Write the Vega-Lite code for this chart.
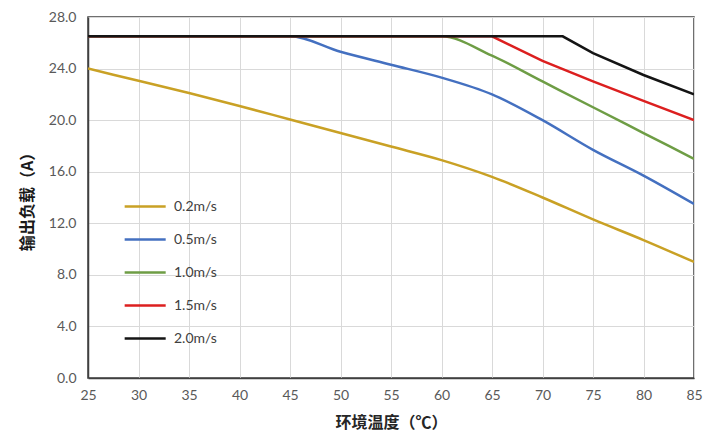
{
  "$schema": "https://vega.github.io/schema/vega-lite/v6.json",
  "width": 606,
  "height": 361,
  "autosize": "none",
  "padding": {"left": 88, "top": 17, "right": 24, "bottom": 68},
  "background": "white",
  "config": {
    "view": {"stroke": "#404040", "strokeWidth": 1.5},
    "font": "Lato"
  },
  "data": {
    "values": [
      {"speed": "0.2m/s", "t": 25, "a": 24.0},
      {"speed": "0.2m/s", "t": 30, "a": 23.05},
      {"speed": "0.2m/s", "t": 35, "a": 22.1},
      {"speed": "0.2m/s", "t": 40, "a": 21.1},
      {"speed": "0.2m/s", "t": 45, "a": 20.05},
      {"speed": "0.2m/s", "t": 50, "a": 19.0},
      {"speed": "0.2m/s", "t": 55, "a": 17.95},
      {"speed": "0.2m/s", "t": 60, "a": 16.9},
      {"speed": "0.2m/s", "t": 65, "a": 15.6},
      {"speed": "0.2m/s", "t": 70, "a": 14.0},
      {"speed": "0.2m/s", "t": 75, "a": 12.3},
      {"speed": "0.2m/s", "t": 80, "a": 10.7},
      {"speed": "0.2m/s", "t": 85, "a": 9.0},
      {"speed": "0.5m/s", "t": 25, "a": 26.5},
      {"speed": "0.5m/s", "t": 45, "a": 26.5},
      {"speed": "0.5m/s", "t": 50, "a": 25.3},
      {"speed": "0.5m/s", "t": 55, "a": 24.3},
      {"speed": "0.5m/s", "t": 60, "a": 23.3},
      {"speed": "0.5m/s", "t": 65, "a": 22.0},
      {"speed": "0.5m/s", "t": 70, "a": 20.0},
      {"speed": "0.5m/s", "t": 75, "a": 17.7},
      {"speed": "0.5m/s", "t": 80, "a": 15.7},
      {"speed": "0.5m/s", "t": 85, "a": 13.5},
      {"speed": "1.0m/s", "t": 25, "a": 26.5},
      {"speed": "1.0m/s", "t": 60, "a": 26.5},
      {"speed": "1.0m/s", "t": 65, "a": 25.0},
      {"speed": "1.0m/s", "t": 70, "a": 23.0},
      {"speed": "1.0m/s", "t": 75, "a": 21.0},
      {"speed": "1.0m/s", "t": 80, "a": 19.0},
      {"speed": "1.0m/s", "t": 85, "a": 17.0},
      {"speed": "1.5m/s", "t": 25, "a": 26.5},
      {"speed": "1.5m/s", "t": 65, "a": 26.5},
      {"speed": "1.5m/s", "t": 70, "a": 24.6},
      {"speed": "1.5m/s", "t": 75, "a": 23.0},
      {"speed": "1.5m/s", "t": 80, "a": 21.5},
      {"speed": "1.5m/s", "t": 85, "a": 20.0},
      {"speed": "2.0m/s", "t": 25, "a": 26.5},
      {"speed": "2.0m/s", "t": 72, "a": 26.5},
      {"speed": "2.0m/s", "t": 75, "a": 25.2},
      {"speed": "2.0m/s", "t": 80, "a": 23.5},
      {"speed": "2.0m/s", "t": 85, "a": 22.0}
    ]
  },
  "encoding": {
    "x": {
      "field": "t",
      "type": "quantitative",
      "scale": {"domain": [25, 85], "nice": false, "zero": false},
      "axis": {
        "values": [25, 30, 35, 40, 45, 50, 55, 60, 65, 70, 75, 80, 85],
        "title": "环境温度（℃）",
        "titleFont": "Noto Sans CJK SC",
        "titleFontSize": 16,
        "titleFontWeight": "bold",
        "titleColor": "#262626",
        "titlePadding": 12,
        "labelFont": "Lato",
        "labelFontSize": 14,
        "labelColor": "#595959",
        "labelPadding": 10,
        "labelFlush": false,
        "ticks": false,
        "domainColor": "#404040",
        "domainWidth": 1.5,
        "gridColor": "#d9d9d9",
        "gridWidth": 1
      }
    },
    "y": {
      "field": "a",
      "type": "quantitative",
      "scale": {"domain": [0, 28], "nice": false},
      "axis": {
        "values": [0, 4, 8, 12, 16, 20, 24, 28],
        "format": ".1f",
        "title": "输出负载（A）",
        "titleFont": "Noto Sans CJK SC",
        "titleFontSize": 16,
        "titleFontWeight": "bold",
        "titleColor": "#1a1a1a",
        "titlePadding": 13,
        "labelFont": "Lato",
        "labelFontSize": 14,
        "labelColor": "#595959",
        "labelPadding": 12,
        "labelFlush": false,
        "ticks": false,
        "domainColor": "#404040",
        "domainWidth": 1.5,
        "gridColor": "#d9d9d9",
        "gridWidth": 1
      }
    },
    "color": {
      "field": "speed",
      "type": "nominal",
      "scale": {
        "domain": ["0.2m/s", "0.5m/s", "1.0m/s", "1.5m/s", "2.0m/s"],
        "range": ["#C9A125", "#4470C0", "#6E9D45", "#DC1F1F", "#141414"]
      },
      "legend": {
        "title": null,
        "orient": "none",
        "legendX": 35,
        "legendY": 181,
        "padding": 0,
        "symbolType": "M-1,0H5",
        "symbolSize": 187,
        "symbolStrokeWidth": 2.5,
        "symbolOffset": 0,
        "labelOffset": 34,
        "labelFont": "Lato",
        "labelFontSize": 14,
        "labelColor": "#404040",
        "rowPadding": 17
      }
    }
  },
  "layer": [
    {
      "transform": [{"filter": "datum.speed == '0.2m/s' || datum.speed == '0.5m/s' || datum.speed == '1.0m/s'"}],
      "mark": {"type": "line", "strokeWidth": 2.5, "interpolate": "monotone", "clip": true}
    },
    {
      "transform": [{"filter": "datum.speed == '1.5m/s' || datum.speed == '2.0m/s'"}],
      "mark": {"type": "line", "strokeWidth": 2.5, "clip": true}
    }
  ]
}
